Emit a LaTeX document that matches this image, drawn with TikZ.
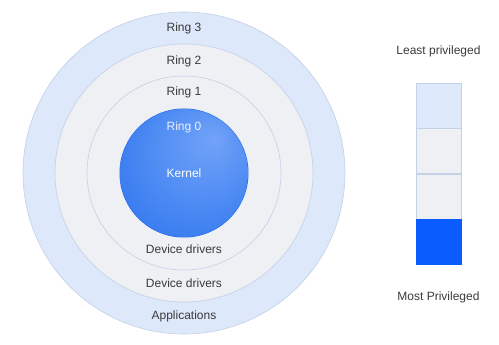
\documentclass[tikz,border=0pt]{standalone}
\usepackage{fontspec}
\setmainfont{Liberation Sans}
\usetikzlibrary{positioning}
\definecolor{ringblue}{HTML}{DDE8FA}
\definecolor{ringgray}{HTML}{EEF0F4}
\definecolor{ringline}{HTML}{C3D0E6}
\definecolor{kernlight}{HTML}{72A3F8}
\definecolor{kernmid}{HTML}{4686F2}
\definecolor{kerndark}{HTML}{1D63EE}
\definecolor{barblue}{HTML}{0A5CFF}
\definecolor{txtgray}{HTML}{3A3A3A}
\pgfdeclareradialshading{kernelshade}{\pgfpoint{12bp}{14bp}}{%
  color(0bp)=(kernlight); color(25bp)=(kernmid); color(50bp)=(kerndark)}

\begin{document}
\begin{tikzpicture}[
      x=1pt, y=-1pt,
      every node/.style={font=\fontsize{12}{14}\selectfont, text=txtgray},
      ring/.style={circle, draw=ringline, line width=0.6pt, fill=#1, inner sep=0pt},
      cell/.style={draw=ringline, line width=0.5pt, fill=#1, inner sep=0pt,
                   minimum width=45pt, minimum height=45pt},
    ]
    \useasboundingbox (0, 0) rectangle (499, 345);

    % concentric rings
    \node[ring=ringblue, minimum size=322pt] (R3) at (184, 173) {};
    \node[ring=ringgray, minimum size=258pt] (R2) at (184, 173) {};
    \node[ring=ringgray, minimum size=194pt] (R1) at (184, 173) {};
    \node[circle, fill=kerndark, inner sep=0pt,
          minimum size=129pt] (R0) at (184, 173) {};
    \path[shading=kernelshade] (R0.center) circle (64pt);

    \node (ring3) at (184, 28)  {Ring 3};
    \node (ring2) at (184, 61)  {Ring 2};
    \node (ring1) at (184, 92)  {Ring 1};
    \node[text=white!85!kernlight] (ring0) at (184, 127) {Ring 0};
    \node[text=white]  (kernel) at (184, 173) {Kernel};
    \node (drv1) at (184, 249) {Device drivers};
    \node (drv2) at (184, 283) {Device drivers};
    \node (apps) at (184, 316) {Applications};

    % privilege bar
    \node[cell=ringblue] (C3) at (438.5, 105.5) {};
    \node[cell=ringgray, below=0pt of C3] (C2) {};
    \node[cell=ringgray, below=0pt of C2] (C1) {};
    \node[cell=barblue, draw=barblue, below=0pt of C1] (C0) {};

    \node (least) at (438.5, 51)  {Least privileged};
    \node (most)  at (438.5, 297) {Most Privileged};
  \end{tikzpicture}
\end{document}
